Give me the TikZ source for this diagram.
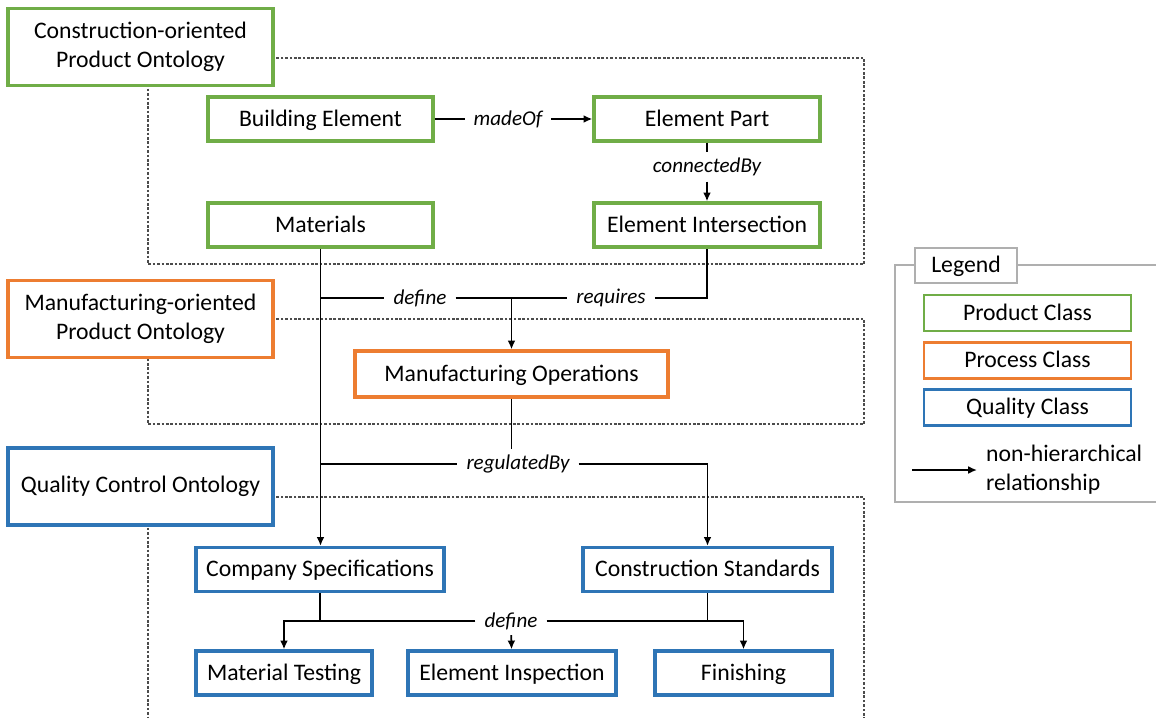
\documentclass[tikz,border=0pt]{standalone}
\usepackage{fontspec}
\setmainfont{Carlito}
\usetikzlibrary{arrows.meta}

\definecolor{prodgreen}{RGB}{112,173,71}
\definecolor{procorange}{RGB}{237,125,49}
\definecolor{qualblue}{RGB}{46,117,182}
\definecolor{framegray}{RGB}{175,175,175}

\tikzset{
	cls/.style={draw, line width=1.9pt, fill=white, minimum height=0.88cm, inner sep=0pt, text height=10.5pt, text depth=2pt, font=\fontsize{13.5}{16.5}\selectfont},
	prodcls/.style={cls, draw=prodgreen},
	proccls/.style={cls, draw=procorange},
	qualcls/.style={cls, draw=qualblue},
	onto/.style={cls, align=center, text height=, text depth=, minimum width=5.3cm, minimum height=1.54cm},
	rel/.style={fill=white, inner xsep=5pt, inner ysep=3pt, font=\fontsize{12}{14}\selectfont\itshape},
	link/.style={line width=1pt},
	arr/.style={link, -{Latex[length=5pt,width=4.5pt]}},
	region/.style={draw=black!70, line width=0.6pt, dash pattern=on 1.5pt off 1pt},
}

\begin{document}
\begin{tikzpicture}[x=0.02cm, y=-0.02cm]
				\useasboundingbox (0,0) rectangle (1156,717);

				% dashed ontology regions
				\draw[region] (148,58) rectangle (864,264);
				\draw[region] (148,319) rectangle (864,424);
				\draw[region] (148,497) rectangle (864,760);

				\node[onto, draw=prodgreen] (conon) at (140.5,47) {Construction-oriented\\Product Ontology};
				\node[onto, draw=procorange] (manon) at (140.5,319) {Manufacturing-oriented\\Product Ontology};
				\node[onto, draw=qualblue] (qcon) at (140.5,486.5) {Quality Control Ontology};

				% product classes
				\node[prodcls, minimum width=4.5cm] (be) at (320.5,119) {Building Element};
				\node[prodcls, minimum width=4.52cm] (ep) at (707,119) {Element Part};
				\node[prodcls, minimum width=4.5cm] (mat) at (320.5,225) {Materials};
				\node[prodcls, minimum width=4.52cm] (ei) at (707,225) {Element Intersection};

				% process class
				\node[proccls, minimum width=6.26cm, minimum height=0.92cm] (mo) at (511.5,374) {Manufacturing Operations};

				% quality classes
				\node[qualcls, minimum width=4.96cm] (cs) at (320,569.5) {Company Specifications};
				\node[qualcls, minimum width=4.98cm] (cst) at (707.5,569.5) {Construction Standards};
				\node[qualcls, minimum width=3.52cm] (mt) at (284,673) {Material Testing};
				\node[qualcls, minimum width=4.16cm] (eins) at (512,673) {Element Inspection};
				\node[qualcls, minimum width=3.54cm] (fin) at (743.5,673) {Finishing};

				% relation labels
				\node[rel] (madeof) at (508,119) {madeOf};
				\node[rel] (connby) at (707,167) {connectedBy};
				\node[rel] (define1) at (420,298) {define};
				\node[rel] (requires) at (611,298) {requires};
				\node[rel] (regby) at (518,464) {regulatedBy};
				\node[rel] (define2) at (511,621) {define};

				\draw[link] (be) -- (madeof);
				\draw[arr] (madeof) -- (ep); % madeOf
				\draw[link] (ep) -- (connby);
				\draw[arr] (connby) -- (ei); % connectedBy

				\draw[arr] (mat.south) -- (mat.south |- cs.north); % Materials -> Company Specifications
				\draw[link] (mat.south |- define1) -- (define1);
				\draw[link] (define1) -- (requires);
				\draw[link] (requires) -| (ei);
				\draw[arr] (define1 -| mo) -- (mo); % define / requires

				\draw[link] (mo) -- (mo |- regby.north);
				\draw[link] (mat.south |- regby) -- (regby);
				\draw[arr] (regby) -| (cst); % regulatedBy

				\draw[link] (cs) -- (cs |- define2);
				\draw[link] (cst) -- (cst |- define2);
				\draw[arr] (define2.west) -| (mt);
				\draw[arr] (define2) -- (eins);
				\draw[arr] (define2.east) -| (fin); % define

				% legend
				\draw[framegray, line width=1.1pt] (895,265) rectangle (1170,502);
				\node[cls, draw=framegray, line width=1.1pt, minimum width=2.04cm, minimum height=0.7cm] (legend) at (966,265.5) {Legend};
				\node[prodcls, line width=1.6pt, minimum width=4.14cm, minimum height=0.72cm] (lprod) at (1027.5,313) {Product Class};
				\node[proccls, line width=1.6pt, minimum width=4.14cm, minimum height=0.72cm] (lproc) at (1027.5,360.5) {Process Class};
				\node[qualcls, line width=1.6pt, minimum width=4.14cm, minimum height=0.72cm] (lqual) at (1027.5,407.5) {Quality Class};
				\coordinate (larr) at (912,470);
				\node[anchor=west, align=left, inner sep=5pt, font=\fontsize{13.5}{16.5}\selectfont] (ltext) at (977,470) {non-hierarchical\\relationship};
				\draw[arr] (larr) -- (ltext.west);
\end{tikzpicture}
\end{document}
